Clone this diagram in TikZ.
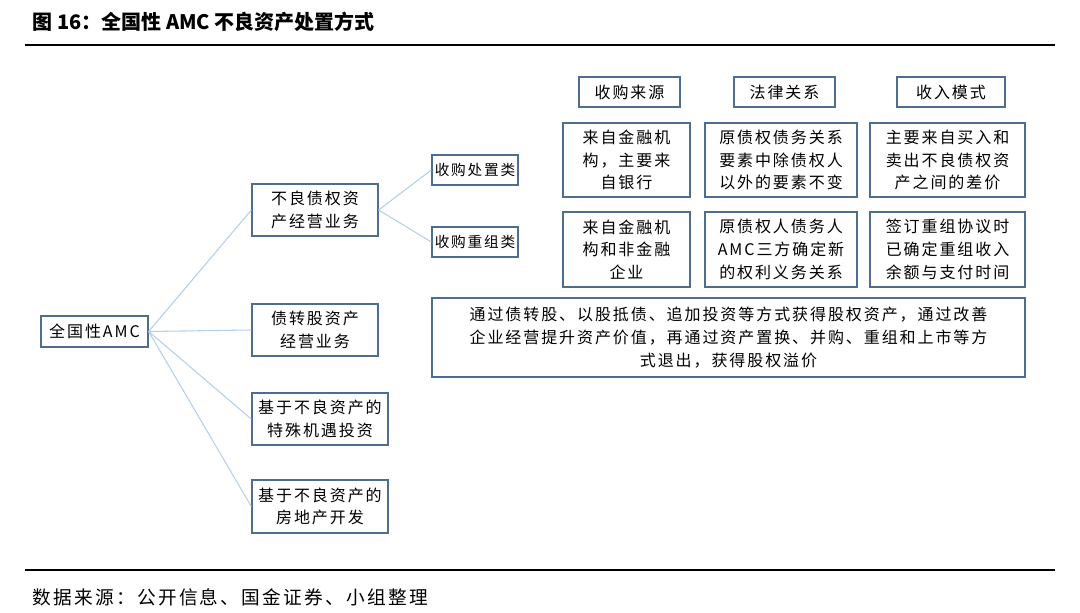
\documentclass[tikz,border=0pt]{standalone}
\usepackage{fontspec}
\setmainfont{Noto Sans CJK SC}
\newfontfamily\spc[LetterSpace=12]{Noto Sans CJK SC}
\begin{document}
\begin{tikzpicture}[x=0.75pt,y=-0.75pt,
  bx/.style={draw=boxc,line width=1pt,align=center,inner sep=0pt,font=\spc\fontsize{12}{17}\selectfont},
  sm/.style={font=\spc\fontsize{11}{15}\selectfont},
  ln/.style={draw=linec,line width=0.8pt}]
\definecolor{boxc}{HTML}{4F6D8F}
\definecolor{linec}{HTML}{B4D0EC}
\useasboundingbox (0,0) rectangle (1080,613);
\fill[white] (0,0) rectangle (1080,613);
\node[anchor=west,font=\fontsize{15}{18}\selectfont\bfseries] (title) at (28,22) {图 16：全国性 AMC 不良资产处置方式};
\draw[line width=1.5pt] (25,45) -- (1055,45);
\draw[line width=1.2pt] (25,570) -- (1055,570);
\node[anchor=west,font=\spc\fontsize{14}{17}\selectfont] (src) at (28,597) {数据来源：公开信息、国金证券、小组整理};
\newcommand{\bxn}[7][]{\node[bx,#1,minimum width=(#5-#3)*0.75pt,minimum height=(#6-#4)*0.75pt] (#2) at ({(#3+#5)/2},{(#4+#6)/2}) {#7};}
\bxn{amc}{41}{316}{148}{347}{全国性AMC}
\bxn{bl}{252}{184}{378}{236}{不良债权资\\产经营业务}
\bxn{zz}{252}{304}{378}{356}{债转股资产\\经营业务}
\bxn{jy}{252}{393}{388}{445}{基于不良资产的\\特殊机遇投资}
\bxn{fd}{252}{480}{388}{533}{基于不良资产的\\房地产开发}
\bxn[sm]{cz}{432}{155}{518}{185}{收购处置类}
\bxn[sm]{cg}{432}{227}{518}{257}{收购重组类}
\bxn{h1}{579}{77}{680}{107}{收购来源}
\bxn{h2}{734}{77}{835}{107}{法律关系}
\bxn{h3}{897}{77}{1005}{107}{收入模式}
\bxn{a1}{563}{123}{690}{197}{来自金融机\\构，主要来\\自银行}
\bxn{a2}{705}{123}{857}{197}{原债权债务关系\\要素中除债权人\\以外的要素不变}
\bxn{a3}{870}{123}{1025}{197}{主要来自买入和\\卖出不良债权资\\产之间的差价}
\bxn{b1}{563}{212}{690}{287}{来自金融机\\构和非金融\\企业}
\bxn{b2}{705}{212}{857}{287}{原债权人债务人\\AMC三方确定新\\的权利义务关系}
\bxn{b3}{870}{212}{1025}{287}{签订重组协议时\\已确定重组收入\\余额与支付时间}
\bxn{big}{432}{298}{1025}{377}{通过债转股、以股抵债、追加投资等方式获得股权资产，通过改善\\企业经营提升资产价值，再通过资产置换、并购、重组和上市等方\\式退出，获得股权溢价}
\foreach \t in {bl,zz,jy,fd} \draw[ln] (amc.east) -- (\t.west);
\foreach \t in {cz,cg} \draw[ln] (bl.east) -- (\t.west);
\end{tikzpicture}
\end{document}
